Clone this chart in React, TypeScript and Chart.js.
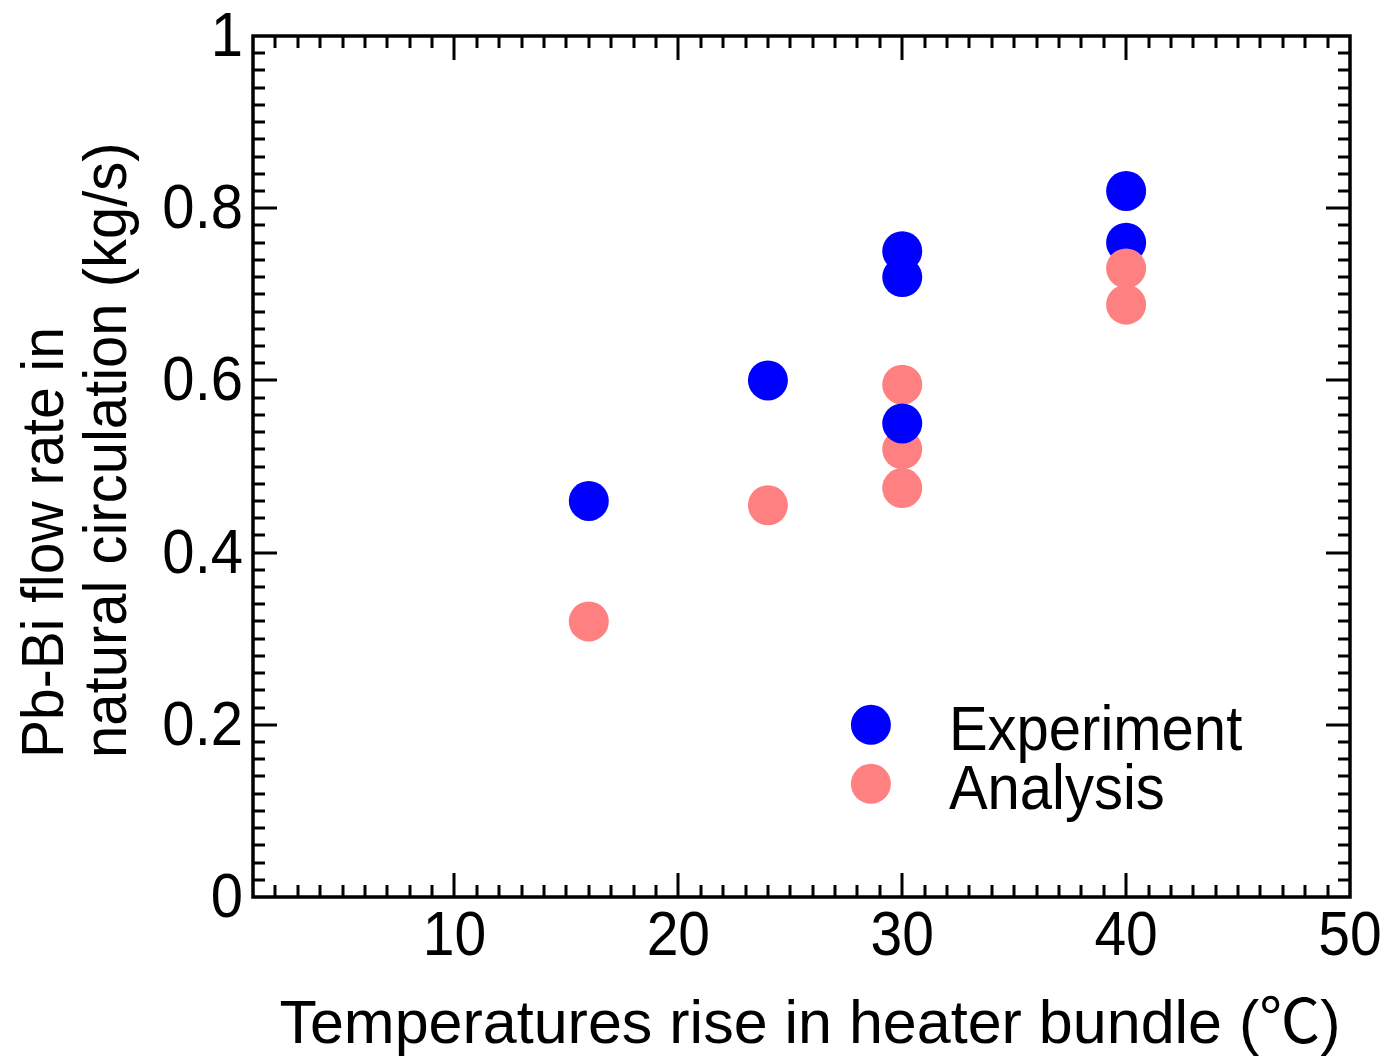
import React, { useEffect, useRef } from "react";
import { Chart, registerables } from "chart.js";

Chart.register(...registerables);

// ---- data ----
const experimentX = [16, 24, 30, 30, 30, 40, 40];
const experimentY = [0.46, 0.6, 0.75, 0.72, 0.55, 0.82, 0.76];
const analysisX = [16, 24, 30, 30, 30, 40, 40];
const analysisY = [0.32, 0.455, 0.595, 0.52, 0.475, 0.73, 0.688];
const seriesLabels = ["Experiment", "Analysis"];
const seriesColors = ["#0000FF", "#FF8080"];
const xTickValues = [10, 20, 30, 40, 50];
const xTickLabels = ["10", "20", "30", "40", "50"];
const yTickValues = [0, 0.2, 0.4, 0.6, 0.8, 1];
const yTickLabels = ["0", "0.2", "0.4", "0.6", "0.8", "1"];
const xTitle = "Temperatures rise in heater bundle (℃)";
const yTitleLines = ["Pb-Bi flow rate in", "natural circulation (kg/s)"];

const FONT = '"Liberation Sans", Arial, "Noto Sans CJK JP", sans-serif';

function drawText(
  ctx: CanvasRenderingContext2D,
  s: string,
  x: number,
  y: number,
  align: CanvasTextAlign,
  size: number,
  sy: number,
  rot = 0
) {
  ctx.save();
  ctx.translate(x, y);
  if (rot) ctx.rotate(rot);
  ctx.scale(1, sy);
  ctx.font = `${size}px ${FONT}`;
  ctx.textAlign = align;
  ctx.textBaseline = "alphabetic";
  ctx.fillStyle = "#000";
  ctx.fillText(s, 0, 0);
  ctx.restore();
}

const framePlugin = {
  id: "framePlugin",
  afterDraw(chart: any) {
    const ctx: CanvasRenderingContext2D = chart.ctx;
    const { left, right, top, bottom } = chart.chartArea;
    const xs = chart.scales.x;
    const ys = chart.scales.y;
    ctx.save();
    ctx.strokeStyle = "#000";
    // ticks
    ctx.lineWidth = 3;
    ctx.beginPath();
    for (let v = 2; v < 50; v++) {
      const px = Math.round(xs.getPixelForValue(v));
      const len = v % 10 === 0 ? 24 : 12;
      ctx.moveTo(px, bottom);
      ctx.lineTo(px, bottom - len);
      ctx.moveTo(px, top);
      ctx.lineTo(px, top + len);
    }
    for (let i = 1; i < 50; i++) {
      const v = i * 0.02;
      const py = Math.round(ys.getPixelForValue(v));
      const len = i % 10 === 0 ? 24 : 12;
      ctx.moveTo(left, py);
      ctx.lineTo(left + len, py);
      ctx.moveTo(right, py);
      ctx.lineTo(right - len, py);
    }
    ctx.stroke();
    // frame
    ctx.lineWidth = 3.5;
    ctx.strokeRect(left, top, right - left, bottom - top);
    ctx.restore();

    // tick labels
    xTickValues.forEach((v, i) => {
      drawText(ctx, xTickLabels[i], xs.getPixelForValue(v), bottom + 58, "center", 57, 1.1);
    });
    yTickValues.forEach((v, i) => {
      drawText(ctx, yTickLabels[i], left - 10, ys.getPixelForValue(v) + 20, "right", 58, 1.1);
    });

    // axis titles
    drawText(ctx, xTitle, 810, 1043, "center", 61, 1.0);
    drawText(ctx, yTitleLines[0], 63, 758, "left", 57, 1.05, -Math.PI / 2);
    drawText(ctx, yTitleLines[1], 126, 758, "left", 58, 1.05, -Math.PI / 2);

    // legend
    const lx = xs.getPixelForValue(28.6);
    const ly0 = ys.getPixelForValue(0.2);
    seriesLabels.forEach((lab, i) => {
      const cy = ly0 + i * 59;
      ctx.save();
      ctx.fillStyle = seriesColors[i];
      ctx.beginPath();
      ctx.arc(lx, cy, 20, 0, Math.PI * 2);
      ctx.fill();
      ctx.restore();
      drawText(ctx, lab, lx + 78, cy + 25, "left", 58, 1.1);
    });
  },
};

export default function App() {
  const ref = useRef<HTMLCanvasElement | null>(null);
  useEffect(() => {
    document.body.style.margin = "0";
    const canvas = ref.current!;
    const analysisLow = analysisX
      .map((x, i) => ({ x, y: analysisY[i] }))
      .filter((p) => p.x < 40);
    const analysisHigh = analysisX
      .map((x, i) => ({ x, y: analysisY[i] }))
      .filter((p) => p.x >= 40);
    const experiment = experimentX.map((x, i) => ({ x, y: experimentY[i] }));
    const pointStyle = (c: string) => ({
      backgroundColor: c,
      borderWidth: 0,
      pointRadius: 20,
      pointHoverRadius: 20,
    });
    const chart = new Chart(canvas, {
      type: "scatter",
      data: {
        datasets: [
          { label: seriesLabels[1], data: analysisHigh, ...pointStyle(seriesColors[1]) },
          { label: seriesLabels[0], data: experiment, ...pointStyle(seriesColors[0]) },
          { label: seriesLabels[1], data: analysisLow, ...pointStyle(seriesColors[1]) },
        ],
      },
      options: {
        responsive: false,
        animation: false,
        events: [],
        layout: { padding: { left: 0, right: 45, top: 36, bottom: 0 } },
        plugins: { legend: { display: false }, tooltip: { enabled: false } },
        scales: {
          x: {
            type: "linear",
            min: 1,
            max: 50,
            grid: { display: false },
            border: { display: false },
            ticks: { display: false },
            afterBuildTicks: (s: any) => {
              s.ticks = xTickValues.map((v) => ({ value: v }));
            },
            afterFit: (s: any) => {
              s.height = 164;
            },
          },
          y: {
            type: "linear",
            min: 0,
            max: 1,
            grid: { display: false },
            border: { display: false },
            ticks: { display: false },
            afterBuildTicks: (s: any) => {
              s.ticks = yTickValues.map((v) => ({ value: v }));
            },
            afterFit: (s: any) => {
              s.width = 253;
            },
          },
        },
      } as any,
      plugins: [framePlugin],
    });
    return () => chart.destroy();
  }, []);
  return (
    <canvas
      ref={ref}
      width={1395}
      height={1061}
      style={{ display: "block", width: 1395, height: 1061 }}
    />
  );
}
